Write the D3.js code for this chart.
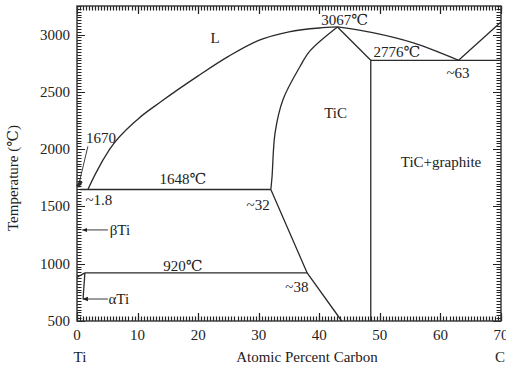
<!DOCTYPE html>
<html>
<head>
<meta charset="utf-8">
<script src="https://cdn.jsdelivr.net/npm/d3@7"></script>
<style>
	body { margin: 0; background: #fff; }
	text { font-family: "Liberation Serif", "DejaVu Serif", serif; fill: #222; }
</style>
</head>
<body>
<script>
// SVG size
var width = 506,
	height = 365;

// tick values
var xTicks = [0, 10, 20, 30, 40, 50, 60, 70];
var yTicks = [500, 1000, 1500, 2000, 2500, 3000];

// phase boundaries [at.% C, temperature]
var liquidusTi = [[1.8, 1648], [3, 1780], [5.4, 2000], [10, 2260], [14, 2420], [20, 2640], [25, 2810], [30, 2950], [35, 3025], [40, 3058], [43, 3067]];
var liquidusTiC = [[43, 3067], [48.8, 3017], [55.4, 2930], [59.9, 2843], [63, 2776]];
var liquidusC = [[63, 2776], [70, 3110]];
var ticLeftHigh = [[43, 3067], [38.5, 2860], [36.8, 2720], [34, 2432], [32.7, 2143], [32.2, 1759], [32, 1648]];
var ticLeftLow = [[32, 1648], [38, 920], [43.7, 500]];
var ticRight = [[43, 3067], [48.5, 2776], [48.5, 500]];
var line2776 = [[48.5, 2776], [70, 2776]];
var line1648 = [[0.5, 1648], [32, 1648]];
var line920 = [[1.3, 920], [38, 920]];
var alphaTransus = [[0, 882], [1.3, 920]];
var alphaSolvus = [[1.3, 920], [1.0, 690]];
var tiMelt = [[0.1, 1672], [0.7, 1722]];
var leader1670 = [[1.8, 2025], [0.4, 1715]];

// arrows [from, to]
var arrowBeta = [[5.1, 1295], [0.9, 1295]];
var arrowAlpha = [[5.1, 692], [1.0, 692]];

// labels [text, at.% C, temperature, anchor]
var labels = [
	["L", 22.8, 2930, "middle"],
	["3067\u2103", 44.2, 3087, "middle"],
	["2776\u2103", 52.8, 2808, "middle"],
	["~63", 62.9, 2624, "middle"],
	["TiC", 42.7, 2274, "middle"],
	["TiC+graphite", 60.1, 1846, "middle"],
	["1648\u2103", 17.5, 1698, "middle"],
	["~32", 29.9, 1470, "middle"],
	["920\u2103", 17.5, 937, "middle"],
	["~38", 36.3, 753, "middle"],
	["1670", 1.5, 2056, "start"],
	["~1.8", 1.4, 1514, "start"],
	["\u03b2Ti", 5.4, 1252, "start"],
	["\u03b1Ti", 5.2, 650, "start"]
];

var x = d3.scaleLinear().domain([0, 70]).range([77, 501]);
var y = d3.scaleLinear().domain([500, 3250]).range([321, 6]);

var svg = d3.select("body").append("svg")
	.attr("width", width)
	.attr("height", height);

svg.append("defs").append("marker")
	.attr("id", "head")
	.attr("viewBox", "0 0 10 10")
	.attr("refX", 9).attr("refY", 5)
	.attr("markerWidth", 6).attr("markerHeight", 6)
	.attr("orient", "auto")
	.append("path")
	.attr("d", "M0,1L10,5L0,9Z")
	.attr("fill", "#222");

// ticks (inward on all four sides), snapped to pixel centres
var xMinor = d3.range(0, 70.01, 0.5);
var yMinor = d3.range(500, 3250.01, 25);

var snap = function(v) { return Math.round(v) + 0.5; };
var ticks = svg.append("g").attr("stroke", "#222").attr("stroke-width", 1.2).attr("fill", "none");
function tickPath(vals, len, horizontal) {
	var p = d3.path();
	vals.forEach(function(d) {
		if (horizontal) {
			p.moveTo(snap(x(d)), y(500)); p.lineTo(snap(x(d)), y(500) - len);
			p.moveTo(snap(x(d)), y(3250)); p.lineTo(snap(x(d)), y(3250) + len);
		} else {
			p.moveTo(x(0), snap(y(d))); p.lineTo(x(0) + len, snap(y(d)));
			p.moveTo(x(70), snap(y(d))); p.lineTo(x(70) - len, snap(y(d)));
		}
	});
	ticks.append("path").attr("d", p.toString());
}
tickPath(xMinor, 4.5, true);
tickPath(xTicks, 8, true);
tickPath(yMinor, 4.5, false);
tickPath(yTicks, 8, false);

// tick labels
svg.selectAll(".xt").data(xTicks).enter().append("text")
	.attr("class", "xt")
	.attr("x", function(d) { return x(d); })
	.attr("y", 340)
	.attr("text-anchor", "middle").attr("font-size", 15)
	.text(function(d) { return d; });
svg.selectAll(".yt").data(yTicks).enter().append("text")
	.attr("class", "yt")
	.attr("x", 70)
	.attr("y", function(d) { return y(d) + 5; })
	.attr("text-anchor", "end").attr("font-size", 15)
	.text(function(d) { return d; });

// frame
svg.append("rect")
	.attr("x", x(0)).attr("y", y(3250))
	.attr("width", x(70) - x(0)).attr("height", y(500) - y(3250))
	.attr("fill", "none").attr("stroke", "#333").attr("stroke-width", 1.4);

// phase lines
var curve = d3.line().x(function(d) { return x(d[0]); }).y(function(d) { return y(d[1]); }).curve(d3.curveMonotoneX);
var curveY = d3.line().x(function(d) { return x(d[0]); }).y(function(d) { return y(d[1]); }).curve(d3.curveCatmullRom);
var straight = d3.line().x(function(d) { return x(d[0]); }).y(function(d) { return y(d[1]); });

var lines = svg.append("g").attr("fill", "none").attr("stroke", "#2a2a2a").attr("stroke-width", 1.3);
lines.append("path").attr("d", curve(liquidusTi));
lines.append("path").attr("d", curveY(liquidusTiC));
lines.append("path").attr("d", straight(liquidusC));
lines.append("path").attr("d", curveY(ticLeftHigh));
[ticLeftLow, ticRight, line2776, line1648, line920, alphaTransus, alphaSolvus].forEach(function(p) {
	lines.append("path").attr("d", straight(p));
});
lines.append("path").attr("d", straight(tiMelt)).attr("stroke-width", 3.5);
lines.append("path").attr("d", straight(leader1670)).attr("stroke-width", 0.9);

[arrowBeta, arrowAlpha].forEach(function(a) {
	svg.append("path")
		.attr("d", straight(a))
		.attr("stroke", "#222").attr("stroke-width", 0.9)
		.attr("fill", "none")
		.attr("marker-end", "url(#head)");
});

// labels
svg.selectAll(".lab")
	.data(labels)
	.enter()
	.append("text")
	.attr("class", "lab")
	.attr("x", function(d) { return x(d[1]); })
	.attr("y", function(d) { return y(d[2]); })
	.attr("text-anchor", function(d) { return d[3]; })
	.attr("font-size", 15)
	.text(function(d) { return d[0]; });

// axis titles
svg.append("text").attr("x", x(0) + 3).attr("y", 362).attr("text-anchor", "middle").attr("font-size", 15).text("Ti");
svg.append("text").attr("x", x(70) - 1).attr("y", 362).attr("text-anchor", "middle").attr("font-size", 15).text("C");
svg.append("text").attr("x", 307).attr("y", 362).attr("text-anchor", "middle").attr("font-size", 15).text("Atomic Percent Carbon");
svg.append("text")
	.attr("transform", "translate(18," + 178 + ") rotate(-90)")
	.attr("text-anchor", "middle").attr("font-size", 15)
	.text("Temperature (\u2103)");
</script>
</body>
</html>
